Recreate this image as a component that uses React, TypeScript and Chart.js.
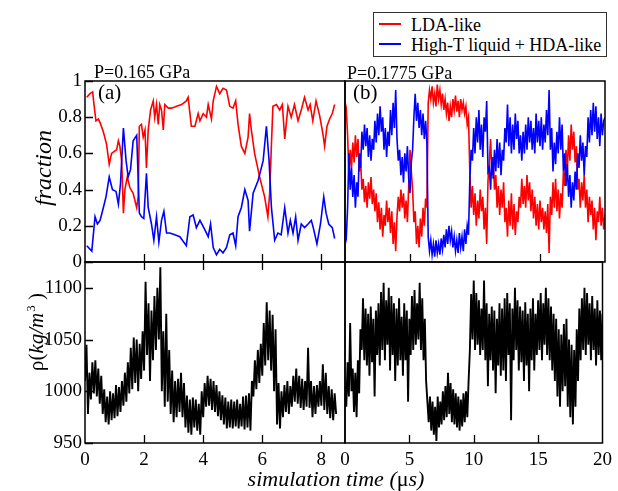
import React, { useEffect, useRef } from "react";
import { Chart, registerables } from "chart.js";
Chart.register(...registerables);

const SERIF = "'Liberation Serif', 'Times New Roman', serif";
Chart.defaults.font.family = SERIF;

// ---------- Panel (a): P = 0.165 GPa, fractions (irregular sampling) ----------
const ldaATimes = [0.06,0.17,0.26,0.30,0.37,0.45,0.51,0.62,0.73,0.82,0.90,0.98,1.07,1.13,1.18,1.24,1.30,1.35,1.43,1.52,1.63,1.75,1.80,1.84,1.91,1.97,2.03,2.08,2.14,2.22,2.31,2.36,2.42,2.48,2.53,2.59,2.65,2.70,2.82,2.93,3.10,3.27,3.43,3.49,3.60,3.72,3.83,3.89,4.00,4.11,4.17,4.28,4.34,4.45,4.56,4.67,4.79,4.90,5.01,5.10,5.18,5.29,5.41,5.52,5.57,5.63,5.74,5.91,6.08,6.19,6.25,6.31,6.36,6.48,6.59,6.68,6.76,6.87,6.98,7.09,7.21,7.32,7.43,7.55,7.62,7.71,7.82,7.94,8.05,8.11,8.19,8.28,8.37,8.45];
const ldaA = [0.91,0.93,0.94,0.875,0.78,0.79,0.77,0.72,0.65,0.54,0.60,0.61,0.62,0.67,0.64,0.56,0.27,0.40,0.47,0.41,0.38,0.30,0.36,0.75,0.76,0.69,0.73,0.52,0.73,0.84,0.89,0.80,0.87,0.76,0.87,0.84,0.73,0.87,0.85,0.85,0.86,0.87,0.89,0.91,0.75,0.75,0.82,0.78,0.82,0.80,0.87,0.79,0.89,0.97,0.93,0.96,0.95,0.86,0.85,0.89,0.76,0.64,0.60,0.69,0.82,0.73,0.60,0.47,0.36,0.25,0.38,0.65,0.86,0.87,0.84,0.87,0.68,0.86,0.80,0.87,0.78,0.84,0.91,0.84,0.87,0.78,0.89,0.81,0.71,0.64,0.75,0.79,0.82,0.87];
const hdaATimes = [0.06,0.23,0.34,0.42,0.51,0.62,0.71,0.82,0.93,1.05,1.13,1.20,1.30,1.39,1.46,1.54,1.63,1.75,1.84,1.91,1.99,2.08,2.14,2.25,2.33,2.42,2.50,2.59,2.67,2.76,2.87,3.04,3.21,3.43,3.55,3.66,3.77,3.89,4.05,4.17,4.25,4.34,4.45,4.56,4.67,4.79,4.90,5.01,5.10,5.18,5.29,5.41,5.52,5.57,5.69,5.86,6.03,6.14,6.23,6.31,6.42,6.53,6.64,6.76,6.87,6.95,7.04,7.13,7.21,7.32,7.43,7.55,7.66,7.74,7.85,7.97,8.08,8.16,8.25,8.37,8.45];
const hdaA = [0.09,0.06,0.25,0.21,0.23,0.30,0.36,0.47,0.40,0.39,0.32,0.43,0.74,0.56,0.47,0.51,0.67,0.70,0.27,0.25,0.24,0.49,0.30,0.21,0.12,0.25,0.11,0.23,0.28,0.16,0.16,0.15,0.14,0.09,0.25,0.26,0.19,0.23,0.18,0.14,0.21,0.08,0.04,0.07,0.05,0.08,0.15,0.16,0.09,0.25,0.30,0.40,0.34,0.17,0.38,0.45,0.56,0.75,0.56,0.30,0.12,0.16,0.15,0.30,0.16,0.23,0.16,0.25,0.12,0.21,0.19,0.21,0.23,0.18,0.10,0.21,0.36,0.27,0.21,0.19,0.13];

// ---------- Panel (b): P = 0.1775 GPa, fractions sampled every 0.1 us ----------
const dtB = 0.1;
const ldaB = [
  0.80,0.84,0.70,0.48,0.62,0.52,0.66,0.55,0.70,0.58,
  0.68,0.50,0.56,0.40,0.46,0.33,0.42,0.30,0.44,0.35,
  0.47,0.32,0.40,0.28,0.38,0.22,0.33,0.18,0.30,0.14,
  0.26,0.20,0.34,0.22,0.30,0.16,0.28,0.10,0.22,0.06,
  0.25,0.36,0.28,0.40,0.30,0.38,0.24,0.34,0.22,0.42,
  0.62,0.50,0.40,0.22,0.28,0.10,0.20,0.08,0.24,0.14,
  0.30,0.20,0.35,0.30,0.88,0.95,0.90,0.97,0.88,0.93,
  0.86,0.98,0.90,0.95,0.87,0.93,0.84,0.90,0.82,0.88,
  0.78,0.86,0.80,0.90,0.84,0.92,0.83,0.89,0.80,0.90,
  0.84,0.88,0.82,0.86,0.76,0.80,0.50,0.30,0.42,0.26,
  0.38,0.20,0.34,0.24,0.40,0.28,0.36,0.18,0.30,0.10,
  0.45,0.55,0.68,0.48,0.58,0.40,0.48,0.30,0.42,0.26,
  0.40,0.30,0.44,0.22,0.30,0.14,0.34,0.20,0.38,0.18,
  0.32,0.15,0.28,0.22,0.36,0.30,0.46,0.32,0.42,0.30,
  0.48,0.34,0.44,0.28,0.40,0.24,0.36,0.20,0.32,0.18,
  0.34,0.22,0.30,0.18,0.28,0.16,0.32,0.05,0.36,0.26,
  0.44,0.30,0.46,0.28,0.40,0.24,0.38,0.30,0.50,0.42,
  0.62,0.50,0.70,0.56,0.76,0.62,0.72,0.55,0.64,0.40,
  0.46,0.30,0.44,0.34,0.48,0.30,0.40,0.22,0.36,0.26,
  0.34,0.18,0.30,0.12,0.28,0.22,0.36,0.20,0.30,0.18,
  0.26,
];
const hdaB = [
  0.18,0.14,0.30,0.60,0.40,0.52,0.36,0.48,0.30,0.44,
  0.36,0.60,0.52,0.72,0.62,0.76,0.64,0.74,0.58,0.70,
  0.56,0.68,0.62,0.78,0.66,0.82,0.70,0.86,0.72,0.80,
  0.62,0.74,0.58,0.72,0.64,0.84,0.70,0.88,0.74,0.95,
  0.68,0.56,0.62,0.48,0.58,0.44,0.60,0.50,0.64,0.46,
  0.38,0.55,0.62,0.80,0.93,0.78,0.88,0.74,0.84,0.70,
  0.82,0.68,0.78,0.66,0.14,0.06,0.12,0.04,0.10,0.03,
  0.12,0.05,0.10,0.04,0.13,0.07,0.15,0.08,0.18,0.10,
  0.20,0.12,0.17,0.08,0.14,0.06,0.12,0.05,0.16,0.08,
  0.14,0.06,0.18,0.10,0.20,0.15,0.45,0.62,0.56,0.74,
  0.60,0.80,0.66,0.84,0.62,0.76,0.58,0.80,0.72,0.89,
  0.50,0.52,0.40,0.58,0.46,0.62,0.50,0.68,0.52,0.66,
  0.48,0.62,0.56,0.74,0.66,0.87,0.64,0.80,0.60,0.76,
  0.62,0.82,0.68,0.78,0.60,0.70,0.56,0.72,0.60,0.76,
  0.62,0.80,0.66,0.78,0.62,0.74,0.60,0.82,0.66,0.78,
  0.64,0.80,0.62,0.76,0.66,0.84,0.70,0.95,0.62,0.74,
  0.50,0.66,0.54,0.72,0.60,0.80,0.62,0.76,0.50,0.60,
  0.42,0.54,0.36,0.48,0.30,0.44,0.34,0.50,0.40,0.60,
  0.52,0.70,0.56,0.66,0.48,0.64,0.58,0.80,0.66,0.84,
  0.70,0.88,0.72,0.86,0.68,0.80,0.64,0.82,0.70,0.78,
  0.80,
];

// ---------- Density, panel (a) sampled every 0.05 us ----------
const dtRhoA = 0.05;
const rhoA = [
  1010,1045,978,1018,992,1028,998,1030,995,1022,
  988,1015,978,1002,970,995,968,1000,972,998,
  974,1006,976,1004,980,1010,986,1018,990,1028,
  998,1042,1002,1052,1008,1050,1000,1046,1012,1058,
  1020,1106,1035,1085,1010,1078,1030,1092,1040,1100,
  1050,1120,1000,1058,985,1075,990,1040,978,1020,
  970,1010,975,1012,980,1018,975,1008,965,996,
  960,992,958,994,965,992,962,988,958,1000,
  975,1008,985,1015,986,1012,982,1010,980,1006,
  976,1000,972,996,968,994,964,990,965,992,
  964,990,966,992,964,988,966,995,963,996,
  965,998,962,1010,995,1030,1002,1040,1008,1046,
  1015,1066,1025,1086,1030,1078,1020,1074,1000,1060,
  968,1008,964,1000,975,1006,980,1010,978,1005,
  985,1015,990,1022,988,1015,984,1012,982,1010,
  985,1042,984,1010,975,1005,978,1006,985,1010,
  986,1026,982,1018,978,1005,974,1002,972,998,
  978,
];

// ---------- Density, panel (b) sampled every 0.1 us ----------
const dtRhoB = 0.1;
const rhoB = [
  1005,985,1028,995,1066,1000,1022,980,1018,975,
  1030,998,1060,1040,1090,1030,1080,1025,1075,1015,
  1082,1028,1070,995,1078,1035,1085,1025,1096,1040,
  1105,1030,1088,1045,1100,1020,1092,1035,1085,1010,
  1080,1025,1090,1030,1072,1015,1085,1030,1078,990,
  1070,1035,1092,1040,1098,1045,1085,1050,1105,1040,
  1090,1030,1070,1010,990,970,995,962,990,958,
  985,952,995,965,990,968,1000,972,1005,975,
  1018,978,1008,970,1002,968,998,965,995,962,
  992,966,998,970,1000,975,1010,1040,1094,1050,
  1107,1040,1095,1045,1088,1035,1080,1040,1107,1030,
  1085,1005,1075,1030,1082,1020,1078,998,1070,1025,
  1085,1015,1080,1020,1090,1010,1095,1035,1085,972,
  1080,1030,1100,1040,1088,1020,1082,1028,1078,1010,
  1086,1025,1075,1000,1080,1030,1090,1020,1075,1035,
  1088,1040,1095,1030,1085,1045,1100,1035,1090,1030,
  1082,1020,1075,1010,1070,995,1060,985,1055,1000,
  1065,1005,1070,985,1050,975,1045,968,1040,985,
  1060,1010,1080,1030,1090,1040,1100,1035,1095,1045,
  1085,1030,1092,1040,1080,1025,1088,1035,1078,1030,
  1075,
];

const seriesLabels = ["LDA-like", "High-T liquid + HDA-like"];
const RED = "#ff0000";
const BLUE = "#0000ff";

const pairs = (ts: number[], vs: number[]) => ts.map((t, i) => ({ x: t, y: vs[i] }));
const uniform = (vs: number[], dt: number) => vs.map((v, i) => ({ x: Math.round(i * dt * 1000) / 1000, y: v }));

const framePlugin = {
  id: "frame",
  afterDraw(chart: any, _args: any, opts: any) {
    const { ctx, chartArea: a, scales } = chart;
    ctx.save();
    ctx.strokeStyle = "#000";
    ctx.lineWidth = 1.5;
    ctx.strokeRect(a.left, a.top, a.right - a.left, a.bottom - a.top);
    const L = 8;
    ctx.lineWidth = 1.3;
    ctx.beginPath();
    if (opts.tickLeft) {
      for (const t of scales.y.ticks) {
        const p = Math.round(scales.y.getPixelForValue(t.value)) + 0.5;
        ctx.moveTo(a.left, p);
        ctx.lineTo(a.left + L, p);
      }
    }
    for (const t of scales.x.ticks) {
      const p = Math.round(scales.x.getPixelForValue(t.value)) + 0.5;
      if (p <= a.left + 2 || p >= a.right - 2) continue;
      if (opts.tickBottom) {
        ctx.moveTo(p, a.bottom);
        ctx.lineTo(p, a.bottom - L);
      }
      if (opts.tickTop) {
        ctx.moveTo(p, a.top);
        ctx.lineTo(p, a.top + L);
      }
    }
    ctx.stroke();
    ctx.restore();
  },
};

type Panel = {
  box: { l: number; t: number; r: number; b: number };
  xMax: number; xStep: number;
  yMin: number; yMax: number; yStep: number;
  showX: boolean; showY: boolean;
  tickLeft: boolean; tickBottom: boolean; tickTop: boolean;
  datasets: any[];
  lw: number;
};

const Y_AXIS_W = 45;
const X_AXIS_H = 40;

const panels: Panel[] = [
  {
    box: { l: 85, t: 81, r: 345, b: 262 },
    xMax: 8.8, xStep: 2, yMin: 0, yMax: 1, yStep: 0.2,
    showX: false, showY: true, tickLeft: true, tickBottom: true, tickTop: false, lw: 1.6,
    datasets: [
      { label: seriesLabels[1], data: pairs(hdaATimes, hdaA), borderColor: BLUE },
      { label: seriesLabels[0], data: pairs(ldaATimes, ldaA), borderColor: RED },
    ],
  },
  {
    box: { l: 345, t: 81, r: 605, b: 262 },
    xMax: 20, xStep: 5, yMin: 0, yMax: 1, yStep: 0.2,
    showX: false, showY: false, tickLeft: false, tickBottom: true, tickTop: false, lw: 1.6,
    datasets: [
      { label: seriesLabels[1], data: uniform(hdaB, dtB), borderColor: BLUE },
      { label: seriesLabels[0], data: uniform(ldaB, dtB), borderColor: RED },
    ],
  },
  {
    box: { l: 85, t: 262, r: 345, b: 443 },
    xMax: 8.8, xStep: 2, yMin: 950, yMax: 1125, yStep: 50,
    showX: true, showY: true, tickLeft: true, tickBottom: true, tickTop: true, lw: 1.9,
    datasets: [{ label: "rho", data: uniform(rhoA, dtRhoA), borderColor: "#000" }],
  },
  {
    box: { l: 345, t: 262, r: 605, b: 443 },
    xMax: 20, xStep: 5, yMin: 950, yMax: 1125, yStep: 50,
    showX: true, showY: false, tickLeft: false, tickBottom: true, tickTop: false, lw: 1.9,
    datasets: [{ label: "rho", data: uniform(rhoB, dtRhoB), borderColor: "#000" }],
  },
];

const W = 618;
const H = 491;

function buildConfig(p: Panel): any {
  const yW = p.showY ? Y_AXIS_W : 0;
  const xH = p.showX ? X_AXIS_H : 0;
  const tickFont = { family: SERIF, size: 19 };
  return {
    type: "line",
    data: {
      datasets: p.datasets.map((d) => ({
        ...d,
        borderWidth: p.lw,
        pointRadius: 0,
        tension: 0,
        fill: false,
      })),
    },
    options: {
      responsive: false,
      animation: false,
      devicePixelRatio: 1,
      events: [],
      layout: {
        padding: {
          left: p.box.l - yW,
          top: p.box.t,
          right: W - p.box.r,
          bottom: H - p.box.b - xH,
        },
      },
      plugins: {
        legend: { display: false },
        tooltip: { enabled: false },
        frame: { tickLeft: p.tickLeft, tickBottom: p.tickBottom, tickTop: p.tickTop },
      },
      scales: {
        x: {
          type: "linear",
          min: 0,
          max: p.xMax,
          grid: { display: false, drawTicks: false },
          border: { display: false },
          ticks: {
            display: p.showX,
            stepSize: p.xStep,
            includeBounds: false,
            autoSkip: false,
            maxRotation: 0,
            padding: 6,
            color: "#000",
            font: tickFont,
            callback: (v: any) => String(v),
          },
          afterFit: (s: any) => { s.height = xH; },
        },
        y: {
          type: "linear",
          min: p.yMin,
          max: p.yMax,
          grid: { display: false, drawTicks: false },
          border: { display: false },
          ticks: {
            display: p.showY,
            stepSize: p.yStep,
            includeBounds: false,
            autoSkip: false,
            padding: 3,
            color: "#000",
            font: tickFont,
            callback: (v: any) => String(v),
          },
          afterFit: (s: any) => { s.width = yW; },
        },
      },
    },
    plugins: [framePlugin],
  };
}

const abs = (extra: any) => ({ position: "absolute" as const, whiteSpace: "nowrap" as const, ...extra });

export default function App() {
  const r0 = useRef<HTMLCanvasElement>(null);
  const r1 = useRef<HTMLCanvasElement>(null);
  const r2 = useRef<HTMLCanvasElement>(null);
  const r3 = useRef<HTMLCanvasElement>(null);
  const refs = [r0, r1, r2, r3];

  useEffect(() => {
    const charts = panels.map((p, i) => new Chart(refs[i].current as HTMLCanvasElement, buildConfig(p)));
    return () => charts.forEach((c) => c.destroy());
  }, []);

  return (
    <div style={{ position: "absolute", left: 0, top: 0, width: W, height: H, background: "#fff", fontFamily: SERIF, color: "#000", overflow: "hidden" }}>
      {refs.map((r, i) => (
        <canvas key={i} ref={r} width={W} height={H} style={{ position: "absolute", left: 0, top: 0, width: W, height: H }} />
      ))}

      <div style={abs({ left: 94, top: 63, fontSize: 18, lineHeight: "18px" })}>P=0.165 GPa</div>
      <div style={abs({ left: 347, top: 64, fontSize: 18, lineHeight: "18px" })}>P=0.1775 GPa</div>
      <div style={abs({ left: 98, top: 82, fontSize: 21, lineHeight: "21px" })}>(a)</div>
      <div style={abs({ left: 353, top: 82, fontSize: 21, lineHeight: "21px" })}>(b)</div>

      <div style={abs({ left: 43, top: 168, fontSize: 24, lineHeight: "24px", fontStyle: "italic", transform: "translate(-50%,-50%) rotate(-90deg)" })}>fraction</div>
      <div style={abs({ left: 36, top: 332, fontSize: 21, lineHeight: "21px", height: 21, transform: "translate(-50%,-50%) rotate(-90deg)" })}>
        ρ(<i>kg/m</i><span style={{ fontSize: "0.62em", position: "relative", top: "-0.6em", marginLeft: 1 }}>3</span> )
      </div>
      <div style={abs({ left: 336, top: 479, fontSize: 22, lineHeight: "22px", transform: "translate(-50%,-50%)" })}>
        <i>simulation time (</i>μ<i>s)</i>
      </div>

      <div style={abs({ left: 373, top: 12, width: 234, height: 45, border: "1px solid #333", boxSizing: "border-box", background: "#fff" })}>
        <div style={abs({ left: 5, top: 10, width: 22, height: 0, borderTop: `2px solid ${RED}` })} />
        <div style={abs({ left: 37, top: 2, fontSize: 18, lineHeight: "20px" })}>{seriesLabels[0]}</div>
        <div style={abs({ left: 5, top: 30, width: 22, height: 0, borderTop: `2px solid ${BLUE}` })} />
        <div style={abs({ left: 37, top: 22, fontSize: 18, lineHeight: "20px" })}>{seriesLabels[1]}</div>
      </div>
    </div>
  );
}
